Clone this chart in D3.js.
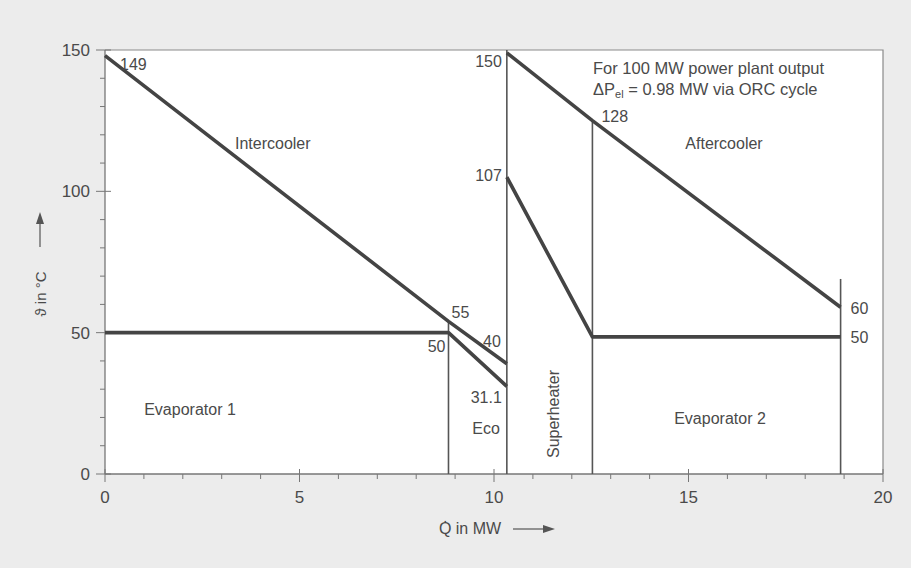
<!DOCTYPE html>
<html>
<head>
<meta charset="utf-8">
<script src="https://cdn.jsdelivr.net/npm/d3@7"></script>
<style>
  body { margin: 0; background: #ececec; }
  svg text { font-family: "Liberation Sans", Arial, sans-serif; fill: #4a4a4a; }
</style>
</head>
<body>
<svg width="911" height="568"></svg>
<script>
// heat exchanger sections (Q in MW) and temperatures (°C), as drawn
const sectionX = [8.83, 10.33, 12.53, 18.91];
const sectionTop = [54, 150, 125, 69];

const intercoolerQ = [0, 8.83, 10.33];
const intercoolerT = [148, 54, 39];
const evap1Q = [0, 8.83, 10.33];
const evap1T = [50, 50, 31];

const aftercoolerQ = [10.33, 12.53, 18.91];
const aftercoolerT = [149, 125, 59];
const evap2Q = [10.33, 12.53, 18.91];
const evap2T = [105, 48.5, 48.5];

const xTicks = [0, 5, 10, 15, 20];
const yTicks = [0, 50, 100, 150];

const svg = d3.select('svg');
const x = d3.scaleLinear().domain([0, 20]).range([105, 883]);
const y = d3.scaleLinear().domain([0, 150]).range([474, 50]);

// plot area
svg.append('rect')
    .attr('x', x(0)).attr('y', y(150))
    .attr('width', x(20) - x(0)).attr('height', y(0) - y(150))
    .attr('fill', '#ffffff');

// frame top and right
svg.append('path')
    .attr('d', `M${x(0)},${y(150)}H${x(20)}V${y(0)}`)
    .attr('fill', 'none').attr('stroke', '#8a8a8a').attr('stroke-width', 1.2);

// axes
const gx = svg.append('g').attr('transform', `translate(0,${y(0)})`);
gx.append('line').attr('x1', x(0)).attr('x2', x(20)).attr('stroke', '#777').attr('stroke-width', 1.3);
gx.selectAll('.minor').data(d3.range(0, 21)).enter().append('line')
    .attr('x1', d => x(d)).attr('x2', d => x(d))
    .attr('y1', d => (d % 5 === 0 ? -5 : 0)).attr('y2', d => (d % 5 === 0 ? 8 : 5))
    .attr('stroke', '#777').attr('stroke-width', 1);
gx.selectAll('text').data(xTicks).enter().append('text')
    .attr('x', d => x(d)).attr('y', 29)
    .attr('text-anchor', 'middle').attr('font-size', 17)
    .text(d => d);

const gy = svg.append('g').attr('transform', `translate(${x(0)},0)`);
gy.append('line').attr('y1', y(0)).attr('y2', y(150)).attr('stroke', '#777').attr('stroke-width', 1.3);
gy.selectAll('.minor').data(d3.range(0, 151, 10)).enter().append('line')
    .attr('y1', d => y(d)).attr('y2', d => y(d))
    .attr('x1', d => (d % 50 === 0 ? -9 : -5)).attr('x2', d => (d % 50 === 0 ? 6 : 0))
    .attr('stroke', '#777').attr('stroke-width', 1);
gy.selectAll('text').data(yTicks).enter().append('text')
    .attr('x', -15).attr('y', d => y(d) + 6)
    .attr('text-anchor', 'end').attr('font-size', 17)
    .text(d => d);

// axis titles
svg.append('text')
    .attr('transform', 'translate(46,294) rotate(-90)')
    .attr('text-anchor', 'middle').attr('font-size', 15)
    .text('\u03D1 in \u00B0C');
svg.append('line')
    .attr('x1', 40).attr('x2', 40).attr('y1', 247).attr('y2', 222)
    .attr('stroke', '#555').attr('stroke-width', 1.2);
svg.append('path').attr('d', 'M36,224L40,212L44,224Z').attr('fill', '#555');

svg.append('text')
    .attr('x', 470).attr('y', 534)
    .attr('text-anchor', 'middle').attr('font-size', 16)
    .text('Q\u0307 in MW');
svg.append('line')
    .attr('x1', 513).attr('x2', 545).attr('y1', 529).attr('y2', 529)
    .attr('stroke', '#555').attr('stroke-width', 1.2);
svg.append('path').attr('d', 'M543,525L555,529L543,533Z').attr('fill', '#555');

// section dividers
svg.selectAll('.divider').data(sectionX).enter().append('line')
    .attr('x1', d => x(d)).attr('x2', d => x(d))
    .attr('y1', y(0)).attr('y2', (d, i) => y(sectionTop[i]))
    .attr('stroke', '#555').attr('stroke-width', 1.6);

// temperature profiles
const line = d3.line().x(d => x(d[0])).y(d => y(d[1]));
const profiles = [
    d3.zip(intercoolerQ, intercoolerT),
    d3.zip(evap1Q, evap1T),
    d3.zip(aftercoolerQ, aftercoolerT),
    d3.zip(evap2Q, evap2T)
];
svg.selectAll('.profile').data(profiles).enter().append('path')
    .attr('d', line)
    .attr('fill', 'none').attr('stroke', '#444').attr('stroke-width', 3.6)
    .attr('stroke-linejoin', 'round');

// labels
const label = (tx, ty, s, anchor = 'start', size = 16) => svg.append('text')
    .attr('x', tx).attr('y', ty).attr('text-anchor', anchor).attr('font-size', size).text(s);

label(x(0) + 15, y(148) + 14, '149');
label(x(8.83) + 3, y(54) - 3, '55');
label(x(8.83) - 3, y(50) + 19, '50', 'end');
label(x(10.33) - 6, y(39) - 17, '40', 'end');
label(x(10.33) - 5, y(31) + 17, '31.1', 'end');
label(x(10.33) - 5, y(149) + 14, '150', 'end');
label(x(10.33) - 5, y(105) + 4, '107', 'end');
label(x(12.53) + 9, y(125) + 1, '128');
label(x(18.91) + 10, y(59) + 7, '60');
label(x(18.91) + 10, y(48.5) + 6, '50');

label(235, 149, 'Intercooler');
label(724, 149, 'Aftercooler', 'middle');
label(190, 415, 'Evaporator 1', 'middle');
label(720, 424, 'Evaporator 2', 'middle');
label(486, 434, 'Eco', 'middle');
svg.append('text')
    .attr('transform', `translate(${(x(10.33) + x(12.53)) / 2 + 9},414) rotate(-90)`)
    .attr('text-anchor', 'middle').attr('font-size', 16)
    .text('Superheater');

label(593, 74, 'For 100 MW power plant output', 'start', 16.5);
const dp = label(593, 95, '\u0394P', 'start', 16.5);
dp.append('tspan').attr('font-size', 11).attr('dy', 3).text('el');
dp.append('tspan').attr('dy', -3).text(' = 0.98 MW via ORC cycle');
</script>
</body>
</html>
